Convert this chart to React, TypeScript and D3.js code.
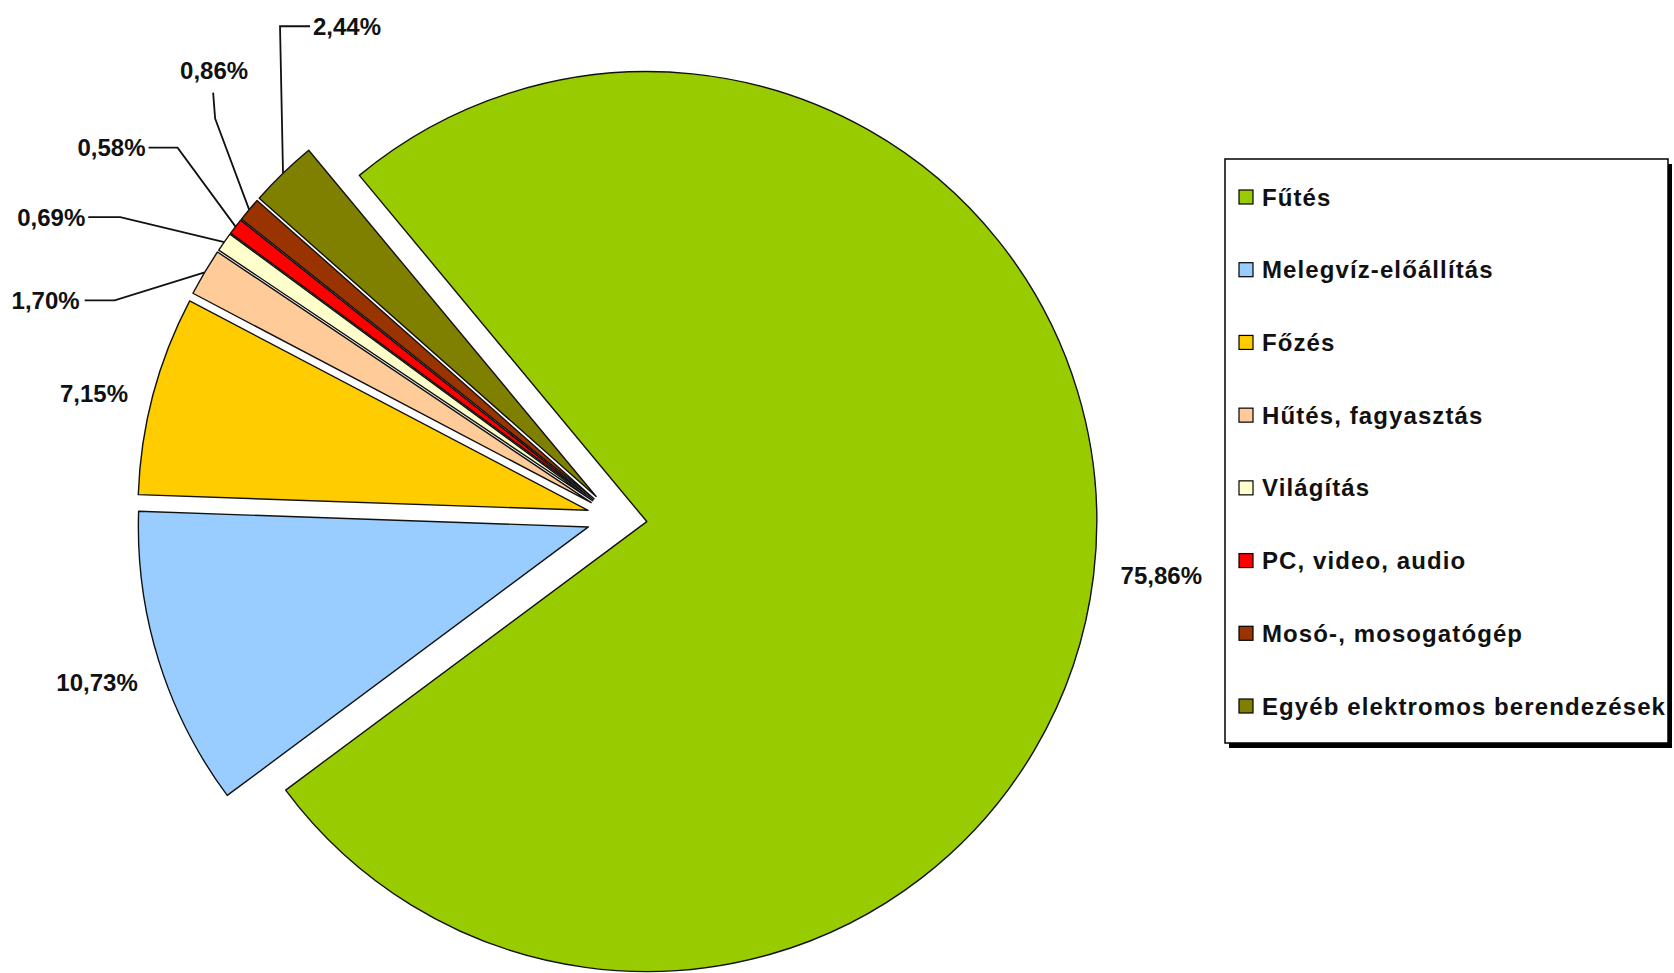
import * as d3 from "d3";

// Háztartási energiafelhasználás megoszlása
const categories = [
  "Fűtés",
  "Melegvíz-előállítás",
  "Főzés",
  "Hűtés, fagyasztás",
  "Világítás",
  "PC, video, audio",
  "Mosó-, mosogatógép",
  "Egyéb elektromos berendezések",
];
const shares = [75.86, 10.73, 7.15, 1.7, 0.69, 0.58, 0.86, 2.44];
const colors = [
  "#99CC00",
  "#99CCFF",
  "#FFCC00",
  "#FFCC99",
  "#FFFFCC",
  "#FF0000",
  "#993300",
  "#808000",
];

const WIDTH = 1674;
const HEIGHT = 973;
const CX = 617;
const CY = 518;
const RADIUS = 450;
const EXPLODE = 30;
const START = (-39.7 * Math.PI) / 180;
const FONT = "'Liberation Sans', Arial, sans-serif";

// label position relative to the outer midpoint of each slice
const labelLayout: {
  anchor: "start" | "middle" | "end";
  at: [number, number];
  leader?: [number, number][];
}[] = [
  { anchor: "start", at: [27, 0] },
  { anchor: "end", at: [-21, 21] },
  { anchor: "end", at: [-25, -2] },
  { anchor: "end", at: [-125, 28], leader: [[-90, 28], [-120, 28]] },
  { anchor: "end", at: [-139, -25], leader: [[-104, -25], [-136, -25]] },
  { anchor: "end", at: [-90, -79], leader: [[-58, -79], [-87, -79]] },
  { anchor: "middle", at: [-35, -139], leader: [[-34, -91], [-36, -117]] },
  { anchor: "start", at: [30, -147], leader: [[-3, -147], [27, -147]] },
];

const huFormat = d3.formatLocale({
  decimal: ",",
  thousands: " ",
  grouping: [3],
  currency: ["", ""],
}).format(".2f");

export default function App() {
  const pie = d3
    .pie<number>()
    .sort(null)
    .startAngle(START)
    .endAngle(START + 2 * Math.PI);
  const arcs = pie(shares);
  const arc = d3
    .arc<d3.PieArcDatum<number>>()
    .innerRadius(0)
    .outerRadius(RADIUS);

  const slices = arcs.map((a, i) => {
    const mid = (a.startAngle + a.endAngle) / 2;
    const ox = EXPLODE * Math.sin(mid);
    const oy = -EXPLODE * Math.cos(mid);
    const px = CX + ox + RADIUS * Math.sin(mid);
    const py = CY + oy - RADIUS * Math.cos(mid);
    return { a, i, ox, oy, px, py };
  });

  const rowY = d3.scalePoint<string>().domain(categories).range([197, 706]);
  const line = d3.line();

  return (
    <div style={{ position: "absolute", left: 0, top: 0 }}>
      <svg width={WIDTH} height={HEIGHT} style={{ display: "block", background: "#fff" }}>
        {/* Slices */}
        <g transform={`translate(${CX},${CY})`}>
          {slices.map(({ a, i, ox, oy }) => (
            <path
              key={categories[i]}
              d={arc(a) ?? ""}
              transform={`translate(${ox},${oy})`}
              fill={colors[i]}
              stroke="#111"
              strokeWidth={1.4}
              strokeLinejoin="round"
            />
          ))}
        </g>

        {/* Leader lines */}
        {slices.map(({ i, px, py }) => {
          const lay = labelLayout[i];
          if (!lay.leader) return null;
          const pts: [number, number][] = [
            [px, py],
            ...lay.leader.map(([dx, dy]) => [px + dx, py + dy] as [number, number]),
          ];
          return (
            <path
              key={`leader-${i}`}
              d={line(pts) ?? ""}
              fill="none"
              stroke="#111"
              strokeWidth={1.8}
            />
          );
        })}

        {/* Data labels */}
        {slices.map(({ i, px, py }) => {
          const lay = labelLayout[i];
          return (
            <text
              key={`label-${i}`}
              x={px + lay.at[0]}
              y={py + lay.at[1]}
              dy="0.36em"
              textAnchor={lay.anchor}
              style={{ fontFamily: FONT, fontSize: "24px", fontWeight: 700 }}
              fill="#111"
            >
              {huFormat(shares[i])}%
            </text>
          );
        })}

        {/* Legend */}
        <rect x={1229} y={164} width={443} height={584} fill="#000" />
        <rect x={1225} y={159} width={443} height={584} fill="#fff" stroke="#000" strokeWidth={1.5} />
        {categories.map((c, i) => (
          <g key={`legend-${c}`} transform={`translate(1239,${rowY(c)})`}>
            <rect x={0} y={-7} width={14} height={14} fill={colors[i]} stroke="#000" strokeWidth={1.2} />
            <text
              x={23}
              dy="0.36em"
              style={{
                fontFamily: FONT,
                fontSize: "24px",
                fontWeight: 700,
                letterSpacing: "1.1px",
              }}
              fill="#111"
            >
              {c}
            </text>
          </g>
        ))}
      </svg>
    </div>
  );
}
